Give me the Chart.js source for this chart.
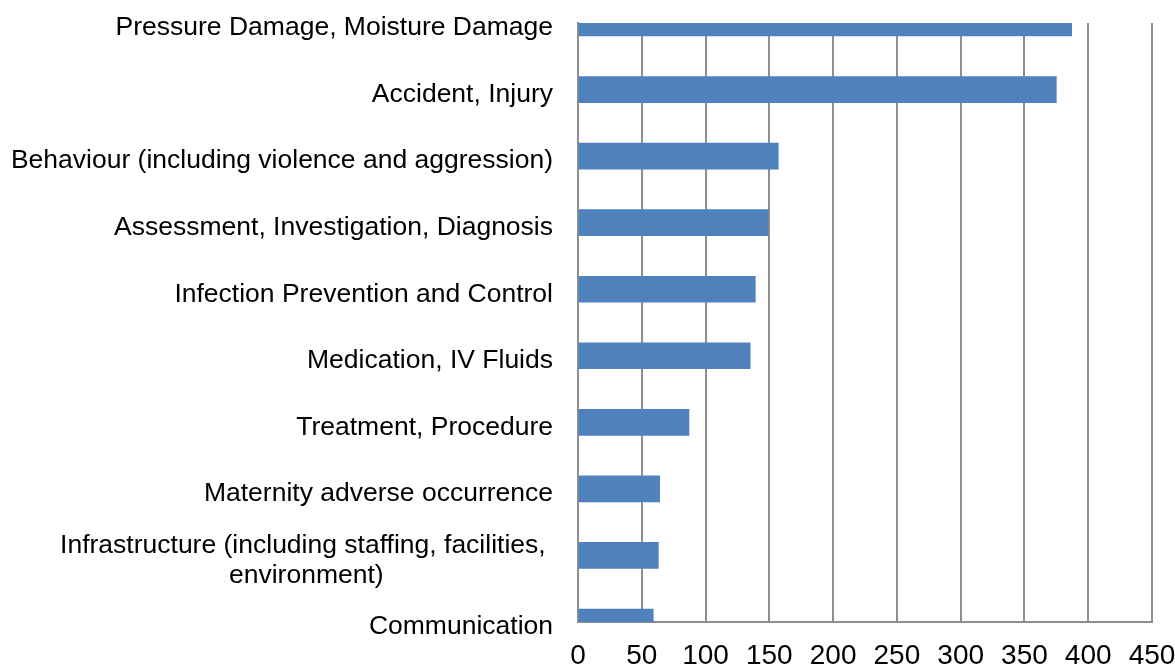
<!DOCTYPE html>
<html>
<head>
<meta charset="utf-8">
<script src="https://cdn.jsdelivr.net/npm/chart.js@4/dist/chart.umd.min.js"></script>
<style>
  html, body { margin: 0; padding: 0; background: #fff; }
  #wrap { width: 1175px; height: 666px; }
</style>
</head>
<body>
<div id="wrap"><canvas id="chart"></canvas></div>
<script>
// categories, top to bottom
const categories = [
    'Pressure Damage, Moisture Damage',
    'Accident, Injury',
    'Behaviour (including violence and aggression)',
    'Assessment, Investigation, Diagnosis',
    'Infection Prevention and Control',
    'Medication, IV Fluids',
    'Treatment, Procedure',
    'Maternity adverse occurrence',
    ['Infrastructure (including staffing, facilities, ', 'environment)                       '],
    'Communication'
];
const incidents = [387, 375, 157, 149, 139, 135, 87, 64, 63, 59];
const xTicks = [0, 50, 100, 150, 200, 250, 300, 350, 400, 450];

const FONT = '"Liberation Sans", Arial, sans-serif';
const GRID = '#8f8f8f';

const ctx = document.getElementById('chart').getContext('2d');
const chart = new Chart(ctx, {
    type: 'bar',
    data: {
        labels: categories,
        datasets: [{
            label: 'Incidents',
            data: incidents,
            backgroundColor: '#4f81bd',
            borderWidth: 0,
            barThickness: 26
        }]
    },
    options: {
        indexAxis: 'y',
        responsive: true,
        maintainAspectRatio: false,
        animation: false,
        layout: { padding: { top: 23, right: 23, left: 0, bottom: 0 } },
        plugins: {
            legend: { display: false },
            tooltip: { enabled: false }
        },
        scales: {
            x: {
                min: 0,
                max: 450,
                afterBuildTicks: (scale) => { scale.ticks = xTicks.map(v => ({ value: v })); },
                grid: { color: GRID, lineWidth: 2, drawTicks: false },
                border: { color: GRID, width: 2 },
                ticks: {
                    color: '#000',
                    padding: 17,
                    maxRotation: 0,
                    font: { family: FONT, size: 28 }
                },
                afterFit: (scale) => {
                    scale.height = 44;
                    scale.paddingLeft = 0;
                    scale.paddingRight = 0;
                }
            },
            y: {
                offset: false,
                grid: { display: false },
                border: { color: GRID, width: 2 },
                ticks: {
                    color: '#000',
                    padding: 17,
                    labelOffset: 5,
                    autoSkip: false,
                    font: { family: FONT, size: 26.5, lineHeight: 1.15 }
                },
                afterFit: (scale) => {
                    scale.width = 578;
                    scale.paddingTop = 0;
                    scale.paddingBottom = 0;
                }
            }
        }
    }
});
</script>
</body>
</html>
